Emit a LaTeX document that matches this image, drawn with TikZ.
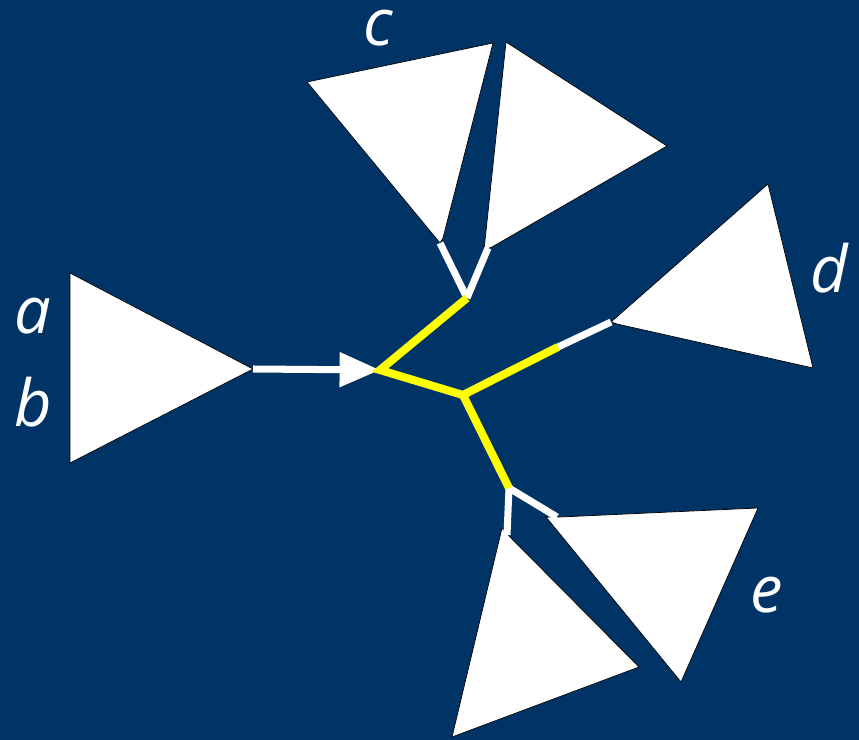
\documentclass[tikz,border=0pt]{standalone}
\usepackage{fontspec}
\setmainfont{Open Sans}
\usetikzlibrary{arrows.meta}
\definecolor{slideblue}{RGB}{0,51,102}
\definecolor{treeyellow}{RGB}{255,255,0}

\begin{document}
\begin{tikzpicture}[x=0.02cm,y=-0.02cm,
 leaf/.style={fill=white,draw=black,line width=0.4pt},
 edge/.style={white,line width=4pt},
 path/.style={treeyellow,line width=4.6pt},
 lbl/.style={white,font=\fontsize{37}{40}\selectfont\itshape}]
 \fill[slideblue] (0,0) rectangle (859,740);
 \useasboundingbox (0,0) rectangle (859,740);
 % inner points of the tree
 \coordinate (root) at (380,370);
 \coordinate (mid) at (463,395);
 \coordinate (cj) at (467,298);
 \coordinate (dj) at (558,347);
 \coordinate (ej) at (509,488);
 % ends at the subtrees
 \coordinate (abtip) at (253,369);
 \coordinate (cl) at (440,243);
 \coordinate (cr) at (488,248);
 \coordinate (dtip) at (611,322);
 \coordinate (el) at (507,535);
 \coordinate (er) at (557,517);
 % subtrees
 \draw[leaf] (70,273) -- (abtip) -- (70,463) -- cycle;
 \draw[leaf] (307,82) -- (493,43) -- (443,238) -- (cl) -- cycle;
 \draw[leaf] (506,42) -- (667,146) -- (492,247) -- (484,250) -- cycle;
 \draw[leaf] (dtip) -- (768,184) -- (813,368) -- (617,324) -- cycle;
 \draw[leaf] (502,528) -- (511,538) -- (639,667) -- (452,737) -- cycle;
 \draw[leaf] (546,517) -- (560,517) -- (758,508) -- (681,682) -- cycle;
 % branches
 \draw[edge,-{Triangle[length=23pt,width=19pt]}] (abtip) -- (root);
 \foreach \x/\y in {cj/cl,cj/cr,dj/dtip,ej/el,ej/er}
   \draw[edge] (\x) -- (\y);
 \draw[path] (cj) -- (root) -- (mid) -- (dj);
 \draw[path] (mid) -- (ej);
 % labels
 \node[lbl] (a) at (33,316) {a};
 \node[lbl] (b) at (33,402) {b};
 \node[lbl] (c) at (378,28) {c};
 \node[lbl] (d) at (829,268) {d};
 \node[lbl] (e) at (767,595) {e};
\end{tikzpicture}
\end{document}
